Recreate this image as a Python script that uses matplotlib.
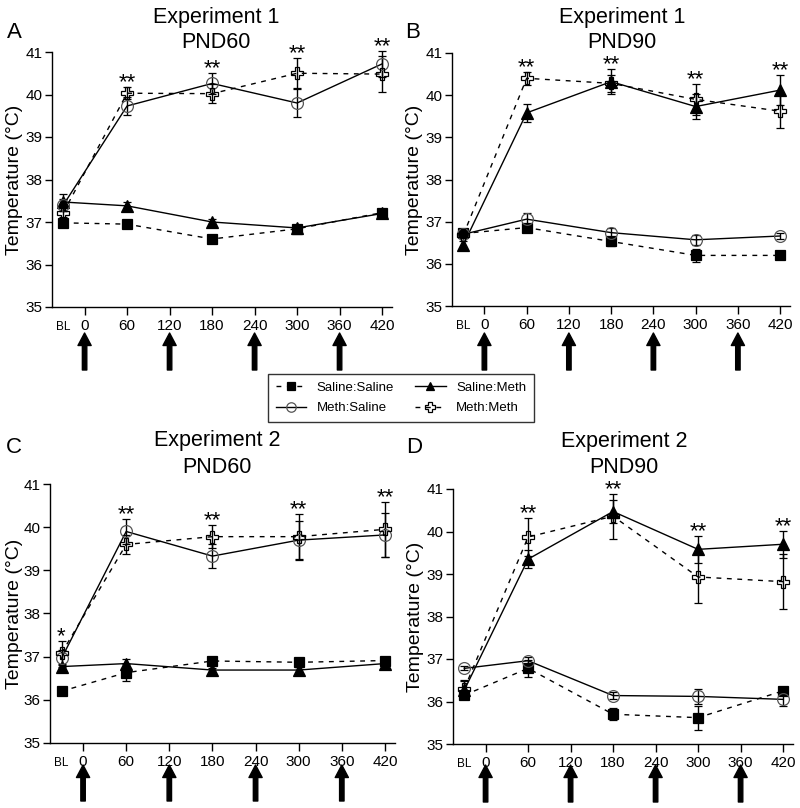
import matplotlib
matplotlib.use('Agg')
import matplotlib.pyplot as plt
from matplotlib.lines import Line2D

plt.rcParams['font.family'] = ['Liberation Sans', 'DejaVu Sans']

# ---------------- data ----------------
times = [-30, 60, 180, 300, 420]          # BL plotted at -30
xticks = [0, 60, 120, 180, 240, 300, 360, 420]
injection_times = [0, 120, 240, 360]
groups = ['Saline:Saline', 'Saline:Meth', 'Meth:Saline', 'Meth:Meth']

# Panel A: Experiment 1, PND60
a_ss = [36.98, 36.95, 36.60, 36.84, 37.22]
a_ss_err = [0.06, 0.06, 0.06, 0.06, 0.06]
a_sm = [37.47, 37.38, 37.00, 36.86, 37.20]
a_sm_err = [0.20, 0.10, 0.08, 0.06, 0.06]
a_ms = [37.40, 39.73, 40.26, 39.80, 40.72]
a_ms_err = [0.15, 0.22, 0.24, 0.33, 0.30]
a_mm = [37.22, 40.03, 40.02, 40.50, 40.48]
a_mm_err = [0.10, 0.14, 0.22, 0.35, 0.42]
a_stars = ['', '**', '**', '**', '**']

# Panel B: Experiment 1, PND90
b_ss = [36.72, 36.86, 36.53, 36.20, 36.20]
b_ss_err = [0.08, 0.06, 0.10, 0.15, 0.05]
b_sm = [36.45, 39.58, 40.32, 39.73, 40.12]
b_sm_err = [0.08, 0.22, 0.30, 0.30, 0.35]
b_ms = [36.70, 37.06, 36.74, 36.57, 36.66]
b_ms_err = [0.05, 0.15, 0.10, 0.12, 0.06]
b_mm = [36.68, 40.40, 40.28, 39.90, 39.62]
b_mm_err = [0.05, 0.15, 0.20, 0.36, 0.40]
b_stars = ['', '**', '**', '**', '**']

# Panel C: Experiment 2, PND60
c_ss = [36.20, 36.63, 36.90, 36.87, 36.91]
c_ss_err = [0.05, 0.20, 0.06, 0.10, 0.06]
c_sm = [36.77, 36.84, 36.69, 36.69, 36.84]
c_sm_err = [0.05, 0.10, 0.05, 0.08, 0.05]
c_ms = [36.96, 39.90, 39.33, 39.70, 39.82]
c_ms_err = [0.20, 0.30, 0.27, 0.45, 0.50]
c_mm = [37.08, 39.60, 39.78, 39.78, 39.95]
c_mm_err = [0.28, 0.22, 0.27, 0.52, 0.64]
c_stars = ['*', '**', '**', '**', '**']

# Panel D: Experiment 2, PND90
d_ss = [36.15, 36.78, 35.70, 35.62, 36.25]
d_ss_err = [0.08, 0.20, 0.14, 0.28, 0.06]
d_sm = [36.27, 39.35, 40.47, 39.58, 39.70]
d_sm_err = [0.22, 0.22, 0.26, 0.32, 0.32]
d_ms = [36.78, 36.96, 36.14, 36.12, 36.05]
d_ms_err = [0.05, 0.08, 0.08, 0.18, 0.16]
d_mm = [36.30, 39.87, 40.36, 38.93, 38.82]
d_mm_err = [0.20, 0.45, 0.53, 0.62, 0.64]
d_stars = ['', '**', '**', '**', '**']

panels = [
    dict(letter='A', title1='Experiment 1', title2='PND60',
         series=[(a_ss, a_ss_err), (a_sm, a_sm_err), (a_ms, a_ms_err), (a_mm, a_mm_err)],
         stars=a_stars),
    dict(letter='B', title1='Experiment 1', title2='PND90',
         series=[(b_ss, b_ss_err), (b_sm, b_sm_err), (b_ms, b_ms_err), (b_mm, b_mm_err)],
         stars=b_stars),
    dict(letter='C', title1='Experiment 2', title2='PND60',
         series=[(c_ss, c_ss_err), (c_sm, c_sm_err), (c_ms, c_ms_err), (c_mm, c_mm_err)],
         stars=c_stars),
    dict(letter='D', title1='Experiment 2', title2='PND90',
         series=[(d_ss, d_ss_err), (d_sm, d_sm_err), (d_ms, d_ms_err), (d_mm, d_mm_err)],
         stars=d_stars),
]

# ---------------- layout (pixels) ----------------
W, H = 800, 808
# left, right, top, bottom of each axes
rects = [(52, 392, 52, 307), (452, 790, 53, 306), (50, 395, 484, 743), (453, 793, 489, 744)]
# title baselines, letter position, ylabel right edge, arrow tip/tail in px
title_info = [(216, 22.7, 48.3), (622, 23.0, 48.0), (217, 446.0, 472.7), (624, 446.7, 473.3)]
letter_pos = [(7, 38.3), (405, 37.7), (6, 452.7), (406, 453.3)]
ylabel_right = [23, 423, 23, 424]
arrow_px = [(333, 370), (333, 370), (765, 801), (765, 802)]

dash = (0, (3.5, 4))
styles = [
    dict(marker='s', ls=dash, color='black', mfc='black', mec='black', ms=7.5),
    dict(marker='^', ls='-', color='black', mfc='black', mec='black', ms=8),
    dict(marker='o', ls='-', color='black', mfc='none', mec='#555555', ms=8.5),
    dict(marker='P', ls=dash, color='black', mfc='none', mec='black', ms=8.5),
]

fig = plt.figure(figsize=(W / 100, H / 100), dpi=100)

for i, p in enumerate(panels):
    l, r, t, b = rects[i]
    ax = fig.add_axes([l / W, 1 - b / H, (r - l) / W, (b - t) / H])
    for (vals, errs), st in zip(p['series'], styles):
        ax.errorbar(times, vals, yerr=errs, marker=st['marker'], ls=st['ls'],
                    color=st['color'], mfc=st['mfc'], mec=st['mec'], ms=st['ms'],
                    mew=0.9, lw=1.0, elinewidth=1.0, capsize=2.8, capthick=1.0,
                    ecolor='black', clip_on=False)
    # significance stars
    for k, s in enumerate(p['stars']):
        if s:
            top = max(v[k] + e[k] for v, e in p['series'])
            ax.text(times[k], top - 0.03, s, ha='center', va='baseline', fontsize=16)

    ax.set_xlim(-46, 434)
    ax.set_ylim(35, 41)
    ax.set_yticks(range(35, 42))
    ax.set_xticks(xticks)
    ax.set_xticks([-30], minor=True)
    ax.set_xticklabels(['BL'], minor=True)
    ax.tick_params(axis='y', direction='out', length=5, width=1, pad=2, labelsize=11)
    ax.tick_params(axis='x', which='major', direction='out', length=5.5, width=1, pad=3.0, labelsize=11)
    ax.tick_params(axis='x', which='minor', length=0, pad=10, labelsize=8.5)
    for side in ['top', 'right']:
        ax.spines[side].set_visible(False)
    for side in ['left', 'bottom']:
        ax.spines[side].set_linewidth(1.0)
    ax.set_ylabel('Temperature (\u00b0C)', fontsize=14)
    ax.yaxis.set_label_coords((ylabel_right[i] - l) / (r - l), 0.5)

    # injection arrows
    tip, tail = arrow_px[i]
    tip_f = (b - tip) / (b - t)
    tail_f = (b - tail) / (b - t)
    for xa in injection_times:
        ax.annotate('', xy=(xa, tip_f), xytext=(xa, tail_f),
                    xycoords=ax.get_xaxis_transform(), textcoords=ax.get_xaxis_transform(),
                    arrowprops=dict(facecolor='black', edgecolor='black', width=3.2,
                                    headwidth=9.5, headlength=9, shrink=0),
                    annotation_clip=False)

    # titles and letters
    cx, y1, y2 = title_info[i]
    fig.text(cx / W, 1 - y1 / H, p['title1'], ha='center', va='baseline', fontsize=15.5)
    fig.text(cx / W, 1 - y2 / H, p['title2'], ha='center', va='baseline', fontsize=15.5)
    lx, ly = letter_pos[i]
    fig.text(lx / W, 1 - ly / H, p['letter'], ha='left', va='baseline', fontsize=16)

# legend
handles = [Line2D([], [], marker=st['marker'], ls=st['ls'], color='black', mfc=st['mfc'],
                  mec=st['mec'], ms=st['ms'] * 0.8, mew=0.9, lw=1.0) for st in styles]
order = [0, 2, 1, 3]
leg = fig.legend([handles[k] for k in order], [groups[k] for k in order], ncol=2,
                 loc='center', bbox_to_anchor=(401 / W, 1 - 398 / H), fontsize=9.5,
                 frameon=True, fancybox=False, edgecolor='black', handlelength=2.3,
                 handletextpad=0.8, columnspacing=1.6, borderpad=0.6, labelspacing=0.6)
leg.get_frame().set_linewidth(1.0)

fig.savefig('out.png', dpi=100)
